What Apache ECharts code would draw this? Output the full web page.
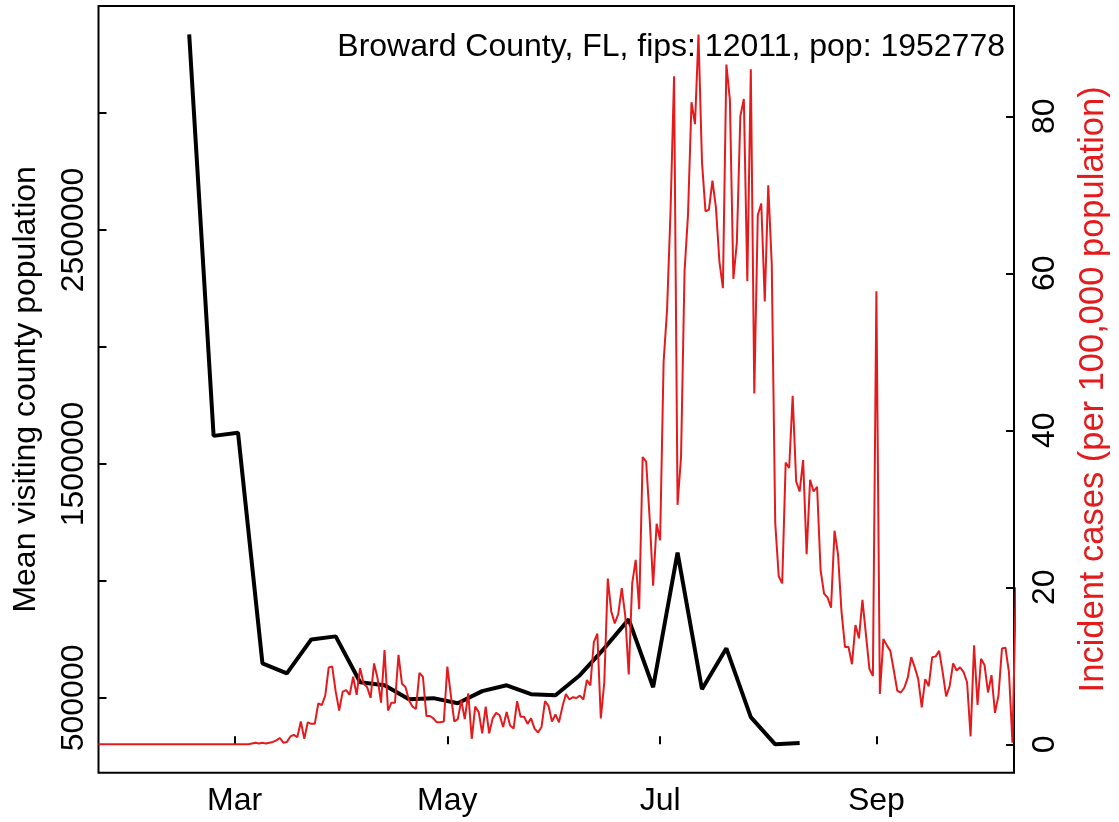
<!DOCTYPE html>
<html>
<head>
<meta charset="utf-8">
<script src="https://cdn.jsdelivr.net/npm/echarts@6/dist/echarts.min.js"></script>
<style>
html, body { margin: 0; padding: 0; background: #fff; }
#main { width: 1119px; height: 822px; }
</style>
</head>
<body>
<div id="main"></div>
<script>
// daily incident cases per 100,000, starting 2020-01-22
var casesStart = [2020, 0, 22];
var cases = [
  0,0,0,0,0,0,0,0,0,0, 0,0,0,0,0,0,0,0,0,0,
  0,0,0,0,0,0,0,0,0,0, 0,0,0,0,0,0,0,0,0,0,
  0,0,0,0,
  0.1,0.2,0.1,0.2,0.1,0.2,0.3,0.5,0.8,0.2,
  0.3,1.0,1.2,0.9,2.9,0.7,2.8,2.6,2.6,5.2,
  5.0,6.2,9.8,9.9,6.7,4.3,6.7,6.9,6.3,8.6,
  6.3,9.7,7.7,7.3,5.9,10.3,8.4,5.3,12.0,4.3,
  5.3,5.3,11.4,7.7,7.3,5.6,4.8,4.5,9.1,8.6,
  3.6,3.6,3.3,2.8,2.8,2.9,9.9,6.3,2.9,3.2,
  5.6,3.2,6.5,0.7,4.8,4.1,
  1.4,4.8,1.4,3.3,4.0,3.7,2.2,4.1,2.4,2.0,
  5.5,3.5,3.5,2.6,3.3,2.0,1.5,2.2,5.5,4.9,
  2.9,3.8,2.8,4.8,6.4,5.7,6.0,5.9,6.2,5.7,
  8.2,7.5,13.0,14.1,3.3,7.9,21.1,16.9,15.4,16.6,
  19.9,16.4,8.9,
  20.5,23.5,17.2,36.6,36.0,28.8,20.2,28.1,26.0,48.7,
  55.4,68.1,85.1,30.5,36.6,60.2,67.5,81.8,79.0,90.4,
  74.2,67.9,68.1,71.8,68.4,61.5,58.1,86.6,82.1,59.3,
  63.9,80.0,82.2,59.0,86.0,44.7,67.4,68.9,56.4,71.2,
  61.2,28.2,21.4,20.5,35.9,35.2,44.4,33.5,32.2,36.2,
  24.2,33.7,32.2,32.8,22.2,19.2,18.7,17.4,27.2,24.2,
  16.9,12.4,12.4,10.2,15.2,13.5,18.4,14.0,9.6,8.7,
  57.7,6.4,13.4,12.6,11.9,9.4,6.8,6.6,7.2,8.5,
  11.1,9.8,8.3,4.7,8.3,7.4,11.1,11.2,11.9,9.2,
  6.1,7.4,10.3,9.4,9.8,9.2,7.9,1.0,12.6,5.0,
  10.9,10.1,6.6,8.8,4.0,6.2,12.2,12.3,9.2,0.2,
  20.0
];

// weekly mean visiting county population, starting 2020-02-17
var visitsStart = [2020, 1, 17];
var visits = [
  3336000, 1620000, 1633000, 648000, 605000, 750000, 763000, 567000, 554000, 494500,
  499000, 477000, 529000, 554000, 516000, 511500, 597000, 712000, 835500, 545600,
  1121000, 537000, 712000, 418000, 301700, 307000
];

var monthTicks = [[2020, 2, 1], [2020, 4, 1], [2020, 6, 1], [2020, 8, 1]];
var monthNames = ['Jan','Feb','Mar','Apr','May','Jun','Jul','Aug','Sep','Oct','Nov','Dec'];
var leftTicks = [500000, 1000000, 1500000, 2000000, 2500000, 3000000];
var leftLabels = [500000, 1500000, 2500000];
var rightTicks = [0, 20, 40, 60, 80];

var DAY = 86400000;
var t0 = Date.UTC(casesStart[0], casesStart[1], casesStart[2]);
var v0 = Date.UTC(visitsStart[0], visitsStart[1], visitsStart[2]);

var casesData = cases.map(function (v, i) { return [t0 + i * DAY, v]; });
var visitsData = visits.map(function (v, i) { return [v0 + i * 7 * DAY, v]; });
var monthTimes = monthTicks.map(function (d) { return Date.UTC(d[0], d[1], d[2]); });

var red = '#E41A1C';
var font = 'Liberation Sans, Arial, Helvetica, sans-serif';
var fs = 32;

var option = {
  animation: false,
  backgroundColor: '#fff',
  title: {
    text: 'Broward County, FL, fips: 12011, pop: 1952778',
    right: 114,
    top: 31,
    padding: 0,
    textStyle: { fontFamily: font, fontSize: fs, fontWeight: 'normal', color: '#000' }
  },
  grid: {
    left: 98.5, right: 98.5, top: 6, bottom: 49.3,
    show: true, borderColor: '#000', borderWidth: 2, backgroundColor: 'transparent'
  },
  xAxis: {
    type: 'value',
    min: t0,
    max: t0 + 262.45 * DAY,
    axisLine: { show: false },
    splitLine: { show: false },
    axisTick: { show: true, inside: true, length: 8, lineStyle: { color: '#000', width: 2 }, customValues: monthTimes },
    axisLabel: {
      customValues: monthTimes,
      margin: 12,
      fontFamily: font, fontSize: fs, color: '#000',
      formatter: function (v) { return monthNames[new Date(v).getUTCMonth()]; }
    }
  },
  yAxis: [{
    type: 'value',
    position: 'left',
    min: 180300,
    max: 3457400,
    name: 'Mean visiting county population',
    nameLocation: 'middle',
    nameRotate: 90,
    nameGap: 56,
    nameTextStyle: { fontFamily: font, fontSize: fs, color: '#000' },
    axisLine: { show: false },
    splitLine: { show: false },
    axisTick: { show: true, inside: true, length: 8, lineStyle: { color: '#000', width: 2 }, customValues: leftTicks },
    axisLabel: {
      customValues: leftLabels,
      rotate: 90,
      margin: 8,
      fontFamily: font, fontSize: fs, color: '#000',
      formatter: function (v) { return String(v); }
    }
  }, {
    type: 'value',
    position: 'right',
    min: -3.62,
    max: 94.05,
    name: 'Incident cases (per 100,000 population)',
    nameLocation: 'middle',
    nameRotate: 90,
    nameGap: 62,
    nameTextStyle: { fontFamily: font, fontSize: 34.5, color: red },
    axisLine: { show: false },
    splitLine: { show: false },
    axisTick: { show: true, inside: true, length: 8, lineStyle: { color: '#000', width: 2 }, customValues: rightTicks },
    axisLabel: {
      customValues: rightTicks,
      rotate: 90,
      margin: 15,
      fontFamily: font, fontSize: fs, color: '#000',
      formatter: function (v) { return String(v); }
    }
  }],
  series: [{
    name: 'visits',
    type: 'line',
    yAxisIndex: 0,
    data: visitsData,
    showSymbol: false,
    lineStyle: { color: '#000', width: 4 },
    itemStyle: { color: '#000' }
  }, {
    name: 'cases',
    type: 'line',
    yAxisIndex: 1,
    data: casesData,
    showSymbol: false,
    clip: true,
    lineStyle: { color: red, width: 2 },
    itemStyle: { color: red }
  }]
};

var myChart = echarts.init(document.getElementById('main'));
myChart.setOption(option);
</script>
</body>
</html>
